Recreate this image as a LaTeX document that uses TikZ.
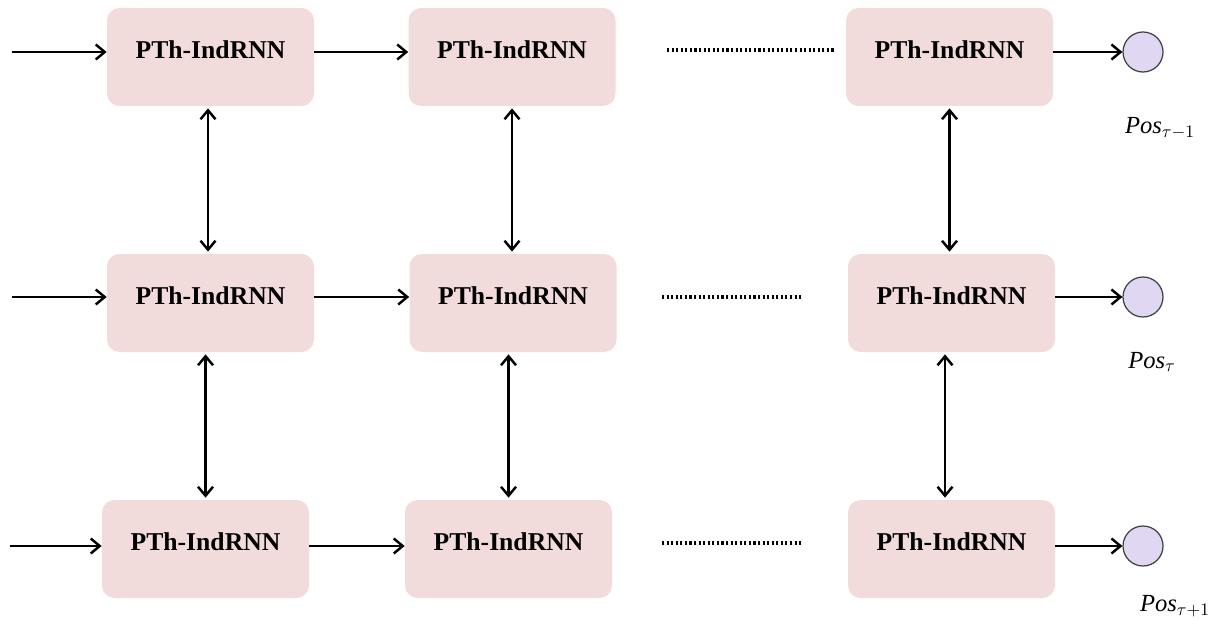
\documentclass[tikz,border=0pt]{standalone}
\usepackage{fontspec}
\setmainfont{Liberation Serif}
\usepackage{tikz}
\usetikzlibrary{arrows.meta}
\usetikzlibrary{calc}
\usetikzlibrary{positioning}

\definecolor{cellpink}{RGB}{242,220,219}
\definecolor{outlilac}{RGB}{224,216,243}

\begin{document}
\begin{tikzpicture}
[
	cell/.style	= {rectangle, rounded corners = 0.25cm, fill = cellpink, minimum width = 4.14cm, minimum height = 1.96cm, inner sep = 0cm, font = \fontsize{14.6}{16}\selectfont\bfseries, text depth = 0.29cm},
	posnode/.style	= {circle, draw = black!75!white, fill = outlilac, minimum size = 0.8cm, inner sep = 0cm, line width = 0.7pt},
	poslabel/.style	= {font = \fontsize{14}{16}\selectfont},
	link/.style	= {-{Straight Barb[length=1.8mm,width=3mm]}, line width = 1.4pt},
	both/.style	= {link, {Straight Barb[length=1.8mm,width=3mm]}-{Straight Barb[length=1.8mm,width=3mm]}, shorten < = 0.04cm, shorten > = 0.04cm},
	dots/.style	= {line width = 2pt, dash pattern = on 1.2pt off 1.4pt},
]

	\useasboundingbox (0,0) rectangle (24.34,12.52);

	\node (b11) [cell] at (4.21,11.38) {PTh-IndRNN};
	\node (b12) [cell] at (10.24,11.38) {PTh-IndRNN};
	\node (b13) [cell] at (18.99,11.38) {PTh-IndRNN};
	%
	\node (b21) [cell] at (4.21,6.46) {PTh-IndRNN};
	\node (b22) [cell] at (10.26,6.46) {PTh-IndRNN};
	\node (b23) [cell] at (19.03,6.46) {PTh-IndRNN};
	%
	\node (b31) [cell] at (4.11,1.54) {PTh-IndRNN};
	\node (b32) [cell] at (10.17,1.54) {PTh-IndRNN};
	\node (b33) [cell] at (19.03,1.54) {PTh-IndRNN};

	\node (o1) [posnode] at (22.86,11.48) {};
	\node (o2) [posnode] at (22.86,6.58) {};
	\node (o3) [posnode] at (22.86,1.60) {};
	%
	\node (p1) [poslabel] at (23.2,9.96) {\textit{Pos}$_{\scriptstyle\tau-1}$};
	\node (p2) [poslabel] at (23.04,5.28) {\textit{Pos}$_{\scriptstyle\tau}$};
	\node (p3) [poslabel] at (23.5,0.4) {\textit{Pos}$_{\scriptstyle\tau+1}$};

	\coordinate (in1) at (0.24,11.48);
	\coordinate (in2) at (0.24,6.58);
	\coordinate (in3) at (0.20,1.60);
	%
	\coordinate (d1a) at (13.34,11.52);
	\coordinate (d1b) at (16.70,11.52);
	\coordinate (d2a) at (13.24,6.58);
	\coordinate (d2b) at (16.06,6.58);
	\coordinate (d3a) at (13.24,1.66);
	\coordinate (d3b) at (16.06,1.66);

	% inputs
	\draw [link] (in1) -- (in1 -| b11.west);
	\draw [link] (in2) -- (in2 -| b21.west);
	\draw [link] (in3) -- (in3 -| b31.west);

	% row to row
	\draw [link] (in1 -| b11.east) -- (in1 -| b12.west);
	\draw [link] (in2 -| b21.east) -- (in2 -| b22.west);
	\draw [link] (in3 -| b31.east) -- (in3 -| b32.west);
	%
	\draw [dots] (d1a) -- (d1b);
	\draw [dots] (d2a) -- (d2b);
	\draw [dots] (d3a) -- (d3b);

	% outputs
	\draw [link] (in1 -| b13.east) -- (o1);
	\draw [link] (in2 -| b23.east) -- (o2);
	\draw [link] (in3 -| b33.east) -- (o3);

	% layers
	\draw [both] ([xshift=-0.05cm]b11.south) -- ([xshift=-0.05cm]b11.south |- b21.north);
	\draw [both] (b21.south -| b31) -- (b31.north);
	\draw [both] (b12.south) -- (b12.south |- b22.north);
	\draw [both] (b22.south -| b32) -- (b32.north);
	\draw [both] (b13.south) -- (b13.south |- b23.north);
	\draw [both] ([xshift=-0.13cm]b23.south) -- ([xshift=-0.13cm]b33.north);

\end{tikzpicture}
\end{document}
